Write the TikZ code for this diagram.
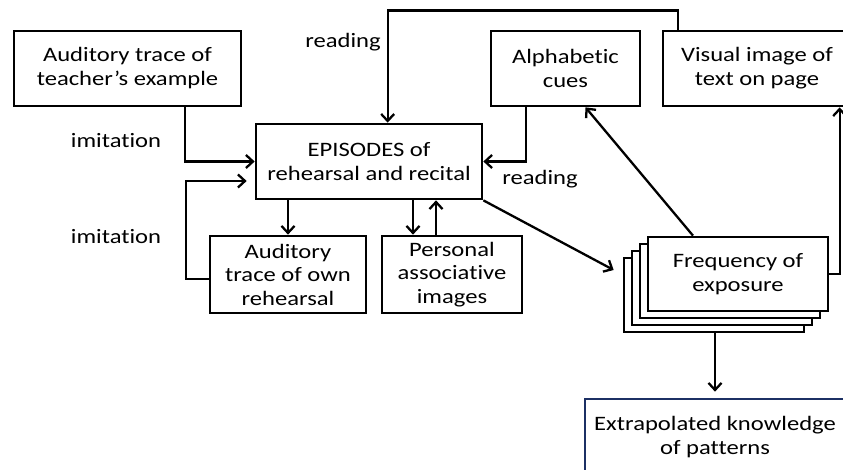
\documentclass[tikz,border=0pt]{standalone}
\usepackage{fontspec}
\setmainfont{Carlito}[FakeStretch=1.2,Ligatures=NoCommon]
\usetikzlibrary{arrows.meta}
\begin{document}
\begin{tikzpicture}[x=1pt,y=-1pt,
  box/.style={draw=black, line width=2.7pt, fill=white, align=center,
    inner sep=0pt, font=\fontsize{20.5}{24}\selectfont},
  lbl/.style={font=\fontsize{20.5}{24}\selectfont, inner sep=0pt},
  arr/.style={line width=2.3pt, -{Straight Barb[length=7pt,width=13pt,line width=2.3pt]}}]
\useasboundingbox (0,0) rectangle (843,470);
\clip (0,0) rectangle (843,470);

% upper row
\node[box, minimum width=227pt, minimum height=75pt] (teach) at (127.5,68.5)
  {Auditory trace of\\teacher’s example};
\node[box, minimum width=149pt, minimum height=75pt] (alpha) at (565.5,68.5)
  {Alphabetic\\cues};
\node[box, minimum width=188pt, minimum height=75pt] (vis) at (757,68.5)
  {Visual image of\\text on page};

% central box
\node[box, minimum width=226pt, minimum height=75pt] (epi) at (369,161.5)
  {EPISODES of\\rehearsal and recital};

% lower row
\node[box, minimum width=156pt, minimum height=77pt, font=\fontsize{20.5}{23.5}\selectfont] (own) at (288,274.5)
  {Auditory\\trace of own\\rehearsal};
\node[box, minimum width=140pt, minimum height=77pt, font=\fontsize{20.5}{23.5}\selectfont] (pers) at (452,274.5)
  {Personal\\associative\\images};

% stacked frequency cards
\node[box, minimum width=180pt, minimum height=74pt] (f4) at (714,295) {};
\node[box, minimum width=180pt, minimum height=74pt] (f3) at (722,288) {};
\node[box, minimum width=180pt, minimum height=74pt] (f2) at (730,281) {};
\node[box, minimum width=180pt, minimum height=74pt] (freq) at (738,274)
  {Frequency of\\exposure};

% outcome
\node[box, draw={rgb,255:red,28;green,48;blue,100}, minimum width=260pt, minimum height=76pt] (ext) at (715,437)
  {Extrapolated knowledge\\of patterns};

% labels
\node[lbl] (r1) at (343,42) {reading};
\node[lbl] (r2) at (540,179) {reading};
\node[lbl] (i1) at (116,141) {imitation};
\node[lbl] (i2) at (116,237) {imitation};

% connectors
\draw[arr] ([xshift=16pt]vis.north west) -- ++(0,-19) -| ([xshift=133pt]epi.north west);
\draw[arr] ([xshift=36pt]alpha.south west) |- (epi.east);
\draw[arr] ([xshift=172pt]teach.south west) |- (epi.west);
\draw[arr] ([yshift=-4.5pt]own.west) -- ++(-23,0) |- ([xshift=-8pt,yshift=-19.5pt]epi.west);
\draw[arr] (epi.south -| own.north) -- (own.north);
\coordinate (p1) at ([xshift=-39pt]pers.north);
\coordinate (p2) at ([xshift=-16pt]pers.north);
\draw[arr] (epi.south -| p1) -- (p1);
\draw[arr] (p2) -- (epi.south -| p2);
\draw[arr] (epi.south east) -- ([xshift=-9pt,yshift=25pt]f4.west);
\draw[arr] ([xshift=-45pt]freq.north) -- ([xshift=20pt]alpha.south);
\coordinate (vr) at ([xshift=178pt]vis.south west);
\draw[arr] (freq.east) -| (vr);
\draw[arr, shorten >=6pt] (f4.south -| ext.north) -- (ext.north);
\end{tikzpicture}
\end{document}
